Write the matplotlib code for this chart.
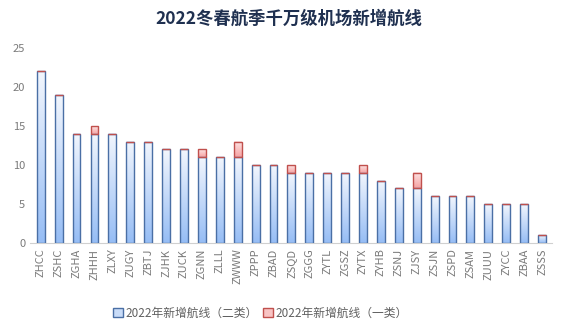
import numpy as np
import matplotlib
matplotlib.use("Agg")
import matplotlib.pyplot as plt
from matplotlib.colors import LinearSegmentedColormap
from matplotlib.patches import Patch

plt.rcParams['font.family'] = ['Noto Sans CJK SC', 'DejaVu Sans']

airports = ['ZHCC', 'ZSHC', 'ZGHA', 'ZHHH', 'ZLXY', 'ZUGY', 'ZBTJ', 'ZJHK', 'ZUCK',
            'ZGNN', 'ZLLL', 'ZWWW', 'ZPPP', 'ZBAD', 'ZSQD', 'ZGGG', 'ZYTL', 'ZGSZ',
            'ZYTX', 'ZYHB', 'ZSNJ', 'ZJSY', 'ZSJN', 'ZSPD', 'ZSAM', 'ZUUU', 'ZYCC',
            'ZBAA', 'ZSSS']
class2 = [22, 19, 14, 14, 14, 13, 13, 12, 12, 11, 11, 11, 10, 10, 9, 9, 9, 9, 9,
          8, 7, 7, 6, 6, 6, 5, 5, 5, 1]
class1 = [0, 0, 0, 1, 0, 0, 0, 0, 0, 1, 0, 2, 0, 0, 1, 0, 0, 0, 1,
          0, 0, 2, 0, 0, 0, 0, 0, 0, 0]
label2 = '2022年新增航线（二类）'
label1 = '2022年新增航线（一类）'

blue_cmap = LinearSegmentedColormap.from_list('b', ['#96bdf5', '#f2f6fd'])
red_cmap = LinearSegmentedColormap.from_list('r', ['#f6a3a3', '#fde4e4'])

fig = plt.figure(figsize=(5.66, 3.31), dpi=100)
ax = fig.add_axes([0.053, 0.266, 0.922, 0.589])

x = np.arange(len(airports))
w = 0.44
b2 = ax.bar(x, class2, w, facecolor='none', edgecolor='#4a6fa5', lw=1.0, zorder=3)
b1 = ax.bar(x, class1, w, bottom=class2, facecolor='none', edgecolor='#c0504d',
            lw=1.0, zorder=3)

grad = np.linspace(0, 1, 100).reshape(-1, 1)
for bars, cmap in ((b2, blue_cmap), (b1, red_cmap)):
    for p in bars:
        h = p.get_height()
        if h <= 0:
            continue
        x0, y0 = p.get_x(), p.get_y()
        ax.imshow(grad, cmap=cmap, origin='lower', aspect='auto',
                  extent=(x0, x0 + p.get_width(), y0, y0 + h), zorder=2)

ax.set_xlim(-0.6, len(airports) - 0.45)
ax.set_ylim(0, 25)
ax.set_yticks(range(0, 26, 5))
ax.set_xticks(x)
ax.set_xticklabels(airports, rotation=90, fontsize=8, color='#7a7a7a')
ax.tick_params(axis='y', labelsize=8, labelcolor='#7a7a7a', length=0)
ax.tick_params(axis='x', length=0, pad=4)
for s in ('top', 'right', 'left'):
    ax.spines[s].set_visible(False)
ax.spines['bottom'].set_color('#d0d0d0')

fig.suptitle('2022冬春航季千万级机场新增航线', x=0.51, y=0.97, fontsize=12.5,
             fontweight='bold', color='#1f3050')

handles = [Patch(facecolor='#c9dcf8', edgecolor='#4a6fa5', label=label2),
           Patch(facecolor='#f8c4c4', edgecolor='#c0504d', label=label1)]
fig.legend(handles=handles, loc='center', bbox_to_anchor=(0.46, 0.055), ncol=2,
           frameon=False, fontsize=8.5, handlelength=0.8, handleheight=0.8,
           handletextpad=0.2, columnspacing=0.5, labelcolor='#606060')

fig.savefig('out.png', dpi=100)
